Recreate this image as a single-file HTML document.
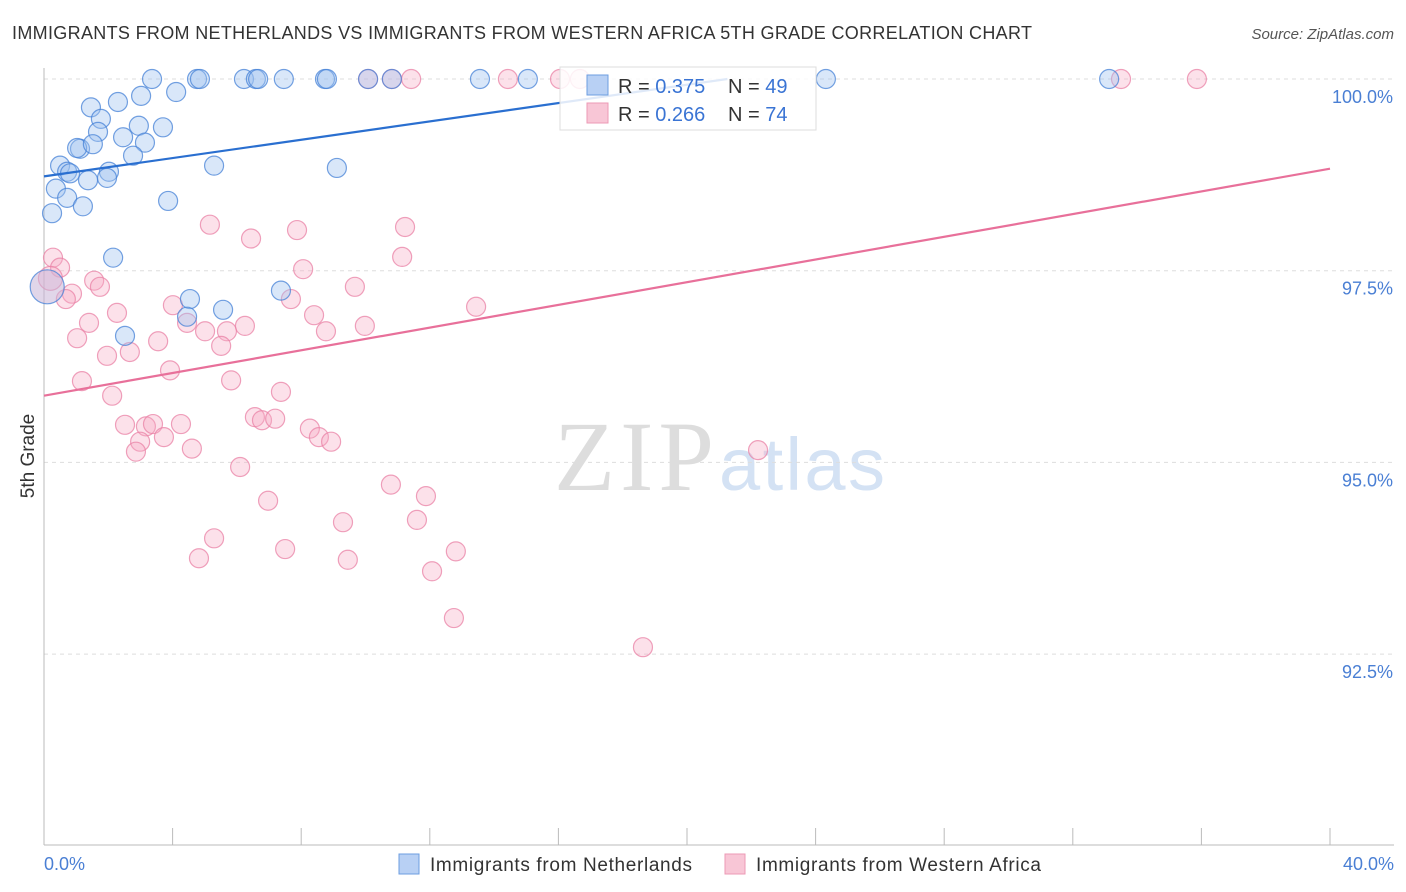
<!DOCTYPE html>
<html><head><meta charset="utf-8"><style>
body{margin:0;background:#fff;font-family:"Liberation Sans",sans-serif;}
#wrap{position:relative;width:1406px;height:892px;overflow:hidden;}
</style></head><body>
<div id="wrap">
<svg id="svg" width="1406" height="892" xmlns="http://www.w3.org/2000/svg">
<text x="12" y="39" font-size="18" fill="#333" textLength="1020">IMMIGRANTS FROM NETHERLANDS VS IMMIGRANTS FROM WESTERN AFRICA 5TH GRADE CORRELATION CHART</text>
<text x="1394" y="39" font-size="15" fill="#555" font-style="italic" text-anchor="end">Source: ZipAtlas.com</text>
<text transform="translate(34,456) rotate(-90)" font-size="19" fill="#333" text-anchor="middle">5th Grade</text>
<g><text x="634" y="490" font-size="100" fill="#ddd" text-anchor="middle" font-family="Liberation Serif,serif" textLength="160">ZIP</text><text x="802" y="490" font-size="74" fill="#d4e2f4" text-anchor="middle" textLength="166">atlas</text></g>
<g id="grid"></g>
<g id="axes"></g>
<g id="pts"></g>
<g id="lines"></g>
<g>
<rect x="560" y="67" width="256" height="63" fill="rgba(255,255,255,0.85)" stroke="#ddd"/>
<rect x="587" y="75" width="21" height="20" fill="#b8d0f4" stroke="#6d9ee0"/>
<rect x="587" y="103" width="21" height="20" fill="#f8c6d6" stroke="#ec9ab5"/>
<text x="618" y="93" font-size="20" fill="#333">R = <tspan fill="#3a74d4">0.375</tspan></text>
<text x="728" y="93" font-size="20" fill="#333">N = <tspan fill="#3a74d4">49</tspan></text>
<text x="618" y="121" font-size="20" fill="#333">R = <tspan fill="#3a74d4">0.266</tspan></text>
<text x="728" y="121" font-size="20" fill="#333">N = <tspan fill="#3a74d4">74</tspan></text>
</g>
<g>
<rect x="399" y="854" width="20" height="20" fill="#b8d0f4" stroke="#6d9ee0"/>
<text x="430" y="871" font-size="19" fill="#333" textLength="262">Immigrants from Netherlands</text>
<rect x="725" y="854" width="20" height="20" fill="#f8c6d6" stroke="#ec9ab5"/>
<text x="756" y="871" font-size="19" fill="#333" textLength="285">Immigrants from Western Africa</text>
</g>
</svg>
</div>
<script>
const yTicks=[100,97.5,95,92.5];
const yTickLabels=["100.0%","97.5%","95.0%","92.5%"];
const xTicks=[0,4,8,12,16,20,24,28,32,36,40];
const xEndLabels=["0.0%","40.0%"];
const blueX=[3.36,4.76,4.85,6.22,6.59,6.66,7.46,8.74,8.80,10.08,10.82,13.56,15.05,24.32,33.13,1.46,2.30,3.02,4.11,1.77,1.68,1.12,1.03,1.52,2.46,3.70,2.95,3.14,2.77,0.50,0.72,0.81,1.37,2.02,1.96,0.37,0.72,1.21,0.25,3.86,5.29,9.11,2.15,4.54,4.45,5.57,2.52,7.37,0.1];
const blueY=[100,100,100,100,100,100,100,100,100,100,100,100,100,100,100,99.63,99.70,99.78,99.83,99.48,99.31,99.09,99.10,99.15,99.24,99.37,99.39,99.17,99.00,98.87,98.79,98.77,98.68,98.79,98.71,98.57,98.45,98.34,98.25,98.41,98.87,98.84,97.67,97.13,96.90,96.99,96.65,97.24,97.29];
const pinkX=[10.08,10.82,11.42,14.43,16.05,16.67,33.50,35.86,5.16,6.44,7.87,11.23,11.14,8.06,9.67,13.44,0.28,0.50,1.56,1.74,0.87,0.68,4.01,7.68,4.45,2.27,1.40,1.03,3.55,2.67,1.96,5.01,5.69,5.51,6.25,8.40,8.77,9.98,3.92,1.18,2.12,5.82,7.37,2.52,3.17,3.39,4.26,3.73,2.99,2.86,4.60,6.56,6.78,7.19,8.27,8.55,8.93,6.10,10.79,11.88,11.60,12.81,12.07,12.75,6.97,9.30,9.45,5.29,4.82,7.50,22.21,18.63,0.1,0.2];
const pinkY=[100,100,100,100,100,100,100,100,98.10,97.92,98.03,98.07,97.68,97.52,97.29,97.03,97.67,97.54,97.37,97.29,97.20,97.13,97.05,97.13,96.82,96.95,96.82,96.62,96.58,96.44,96.39,96.71,96.71,96.52,96.78,96.92,96.71,96.78,96.20,96.06,95.87,96.07,95.92,95.49,95.47,95.50,95.50,95.33,95.27,95.14,95.18,95.59,95.55,95.57,95.44,95.33,95.27,94.94,94.71,94.56,94.25,93.84,93.58,92.97,94.50,94.22,93.73,94.01,93.75,93.87,95.16,92.59,97.29,97.40];
const blueTrend=[98.73,101.12];
const pinkTrend=[95.87,98.83];
const X0=44,X1=1330,Y100=79,PXPER=76.68;
function xs(v){return X0+v/40*(X1-X0);}
function ys(v){return Y100+(100-v)*PXPER;}
const NS="http://www.w3.org/2000/svg";
function mk(tag,attrs,parent){const e=document.createElementNS(NS,tag);for(const k in attrs)e.setAttribute(k,attrs[k]);parent.appendChild(e);return e;}
const grid=document.getElementById('grid'),axes=document.getElementById('axes'),pts=document.getElementById('pts'),lines=document.getElementById('lines');
yTicks.forEach((t,i)=>{
 const l=mk('line',{x1:X0,x2:1394,y1:ys(t),y2:ys(t),stroke:'#ddd','stroke-dasharray':'4,4'},grid);
 
 
 const tx=mk('text',{x:1393,y:ys(t)+24,'font-size':18,fill:'#4a7fd4','text-anchor':'end'},axes);
 tx.textContent=yTickLabels[i];
 
 
});
const ax=mk('line',{x1:X0,x2:X0,y1:68,y2:845,stroke:'#bbb'},axes);


const bx=mk('line',{x1:X0,x2:1394,y1:845,y2:845,stroke:'#bbb'},axes);


xTicks.forEach(t=>{
 const l=mk('line',{x1:xs(t),x2:xs(t),y1:828,y2:845,stroke:'#bbb'},axes);
 
 
});
const xl0=mk('text',{x:44,y:870,'font-size':18,fill:'#4a7fd4'},axes);xl0.textContent=xEndLabels[0];


const xl1=mk('text',{x:1394,y:870,'font-size':18,fill:'#4a7fd4','text-anchor':'end'},axes);xl1.textContent=xEndLabels[1];


pinkX.forEach((x,i)=>{
 const big=(i>=72);
 const c=mk('circle',{cx:xs(x),cy:ys(pinkY[i]),r:big?(i==72?0:12):9.5,fill:'rgba(246,170,196,0.35)',stroke:'rgba(234,130,165,0.75)','stroke-width':1.2},pts);
 
 
});
blueX.forEach((x,i)=>{
 const big=(i==blueX.length-1);
 const c=mk('circle',{cx:xs(x),cy:ys(blueY[i]),r:big?17:9.5,fill:big?'rgba(200,180,215,0.55)':'rgba(160,195,240,0.4)',stroke:'rgba(70,130,215,0.75)','stroke-width':1.2},pts);
 
 
});
const bxEnd=(100-blueTrend[0])/(blueTrend[1]-blueTrend[0])*40;
const bl=mk('line',{x1:xs(0),y1:ys(blueTrend[0]),x2:xs(bxEnd),y2:ys(100),stroke:'#2a6fd0','stroke-width':2.2},lines);


const pl=mk('line',{x1:xs(0),y1:ys(pinkTrend[0]),x2:xs(40),y2:ys(pinkTrend[1]),stroke:'#e8709a','stroke-width':2.2},lines);


</script>
</body></html>
